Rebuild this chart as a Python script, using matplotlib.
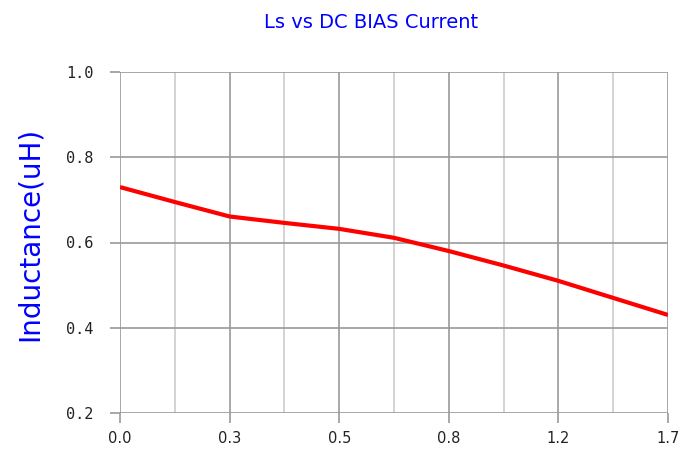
import matplotlib.pyplot as plt

# positions along the x axis (major grid = even index, minor = odd)
x_pos = [0, 1, 2, 3, 4, 5, 6, 7, 8, 9, 10]
inductance = [0.730, 0.695, 0.661, 0.646, 0.632, 0.611, 0.580, 0.546, 0.510, 0.470, 0.430]

x_ticks = [0, 2, 4, 6, 8, 10]
x_labels = ['0.0', '0.3', '0.5', '0.8', '1.2', '1.7']
y_ticks = [0.2, 0.4, 0.6, 0.8, 1.0]

fig = plt.figure(figsize=(6.79, 4.51), dpi=100)
ax = fig.add_axes([120/679, 1 - 413/451, 548/679, 341/451])

ax.plot(x_pos, inductance, color='#ff0000', lw=3.0, solid_capstyle='butt', zorder=3)

ax.set_xlim(0, 10)
ax.set_ylim(0.2, 1.0)

# grid
for xv in range(0, 11):
    c = '#999999' if xv % 2 == 0 else '#cccccc'
    ax.axvline(xv, color=c, lw=1.2, zorder=1)
for yv in y_ticks:
    ax.axhline(yv, color='#999999', lw=1.2, zorder=1)

for s in ax.spines.values():
    s.set_visible(False)

ax.set_xticks(x_ticks)
ax.set_xticklabels(x_labels, fontsize=10.5, color='#222222', family='DejaVu Sans')
ax.set_yticks(y_ticks)
ax.set_yticklabels(['%.1f' % v for v in y_ticks], fontsize=11, color='#222222',
                   family='DejaVu Sans Mono')
ax.tick_params(axis='both', color='#999999', width=1.2, length=7)
ax.tick_params(axis='x', pad=6)
ax.tick_params(axis='y', pad=12)

fig.text(30/679, 1 - 234/451, 'Inductance(uH)', color='#0000ff', fontsize=20,
         rotation=90, ha='center', va='center')
fig.text(371/679, 1 - 22/451, 'Ls vs DC BIAS Current', color='#0000ff',
         fontsize=14, ha='center', va='center')

fig.savefig('out.png', dpi=100)
